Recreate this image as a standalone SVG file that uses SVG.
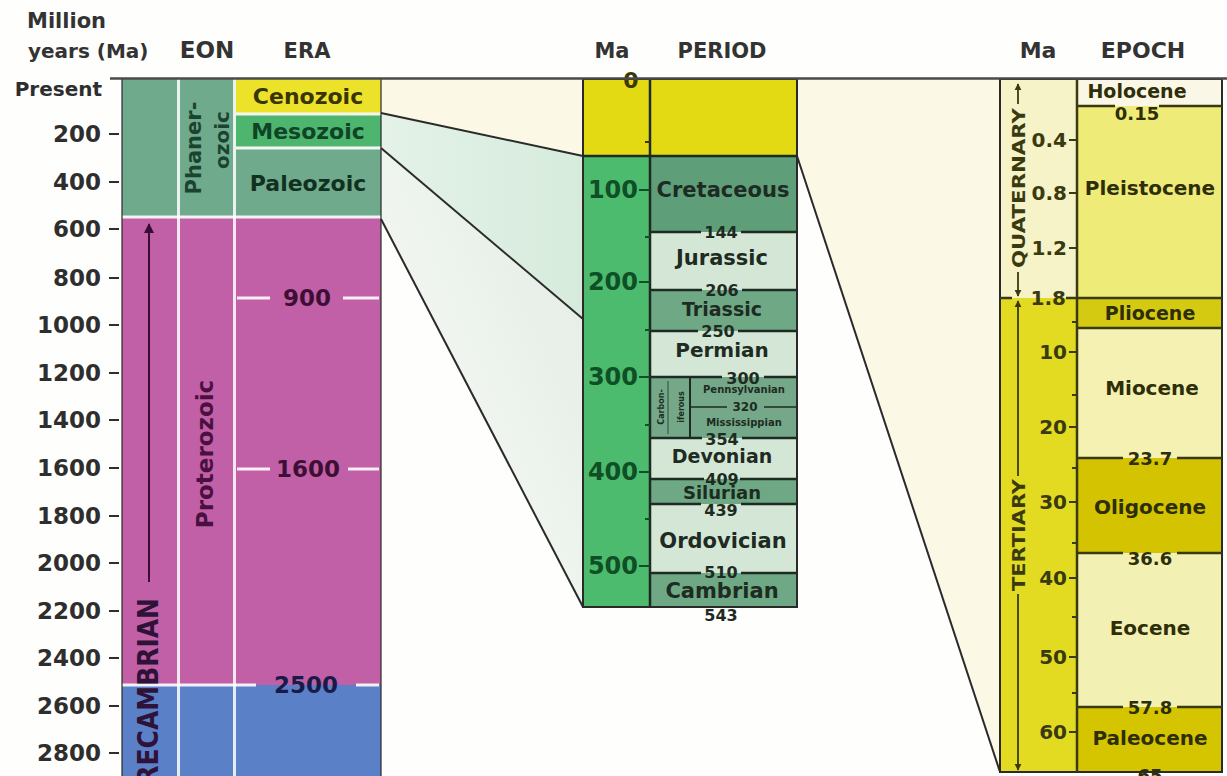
<svg xmlns="http://www.w3.org/2000/svg" width="1227" height="776" viewBox="0 0 1227 776">
<style>
text{font-family:"DejaVu Sans","Liberation Sans",sans-serif;font-weight:bold}
.hdr{fill:#333;font-size:21px}
.ax{fill:#2e2e2e;font-size:23px;text-anchor:end}
.tk{stroke:#2e2e2e;stroke-width:2}
.wl{stroke:#fff;stroke-width:3;opacity:.9}
.pn{fill:#1e2b22;font-size:21px;text-anchor:middle}
.pnum{fill:#1e2b22;font-size:16px;text-anchor:middle}
.pl{stroke:#1e2b22;stroke-width:2.5}
.gma{fill:#0e4f26;font-size:24px;text-anchor:end}
.gtk{stroke:#0e4f26;stroke-width:2}
.en{fill:#2e2e08;font-size:20px;text-anchor:middle}
.enum{fill:#2e2e08;font-size:18px;text-anchor:middle}
.el{stroke:#3a3a10;stroke-width:2.5}
.yma{fill:#3a3a10;font-size:20px;text-anchor:end}
.ytk{stroke:#3a3a10;stroke-width:2}
.conn{stroke:#2a2a2a;stroke-width:2;fill:none}
.frame{fill:none;stroke:#2a2a2a;stroke-width:2}
</style>
<defs>
<linearGradient id="gUp" x1="0" y1="0" x2="1" y2="0">
<stop offset="0" stop-color="#e4f2e8"/><stop offset="1" stop-color="#d6ebdc"/>
</linearGradient>
<linearGradient id="gLow" x1="0" y1="1" x2="1" y2="0">
<stop offset="0" stop-color="#fafbf9"/><stop offset="1" stop-color="#e2ece3"/>
</linearGradient>
<marker id="arrP" viewBox="0 0 10 10" refX="9" refY="5" markerWidth="5" markerHeight="5" orient="auto"><path d="M0,0 L10,5 L0,10 z" fill="#3a0c35"/></marker>
<marker id="arrY" viewBox="0 0 10 10" refX="9" refY="5" markerWidth="4" markerHeight="4" orient="auto"><path d="M0,0 L10,5 L0,10 z" fill="#3a3a10"/></marker>
</defs>
<rect width="1227" height="776" fill="#fefefd"/>

<g id="shading">
<polygon points="381,79 583,79 583,156 381,113" fill="#fbf9e5"/>
<polygon points="381,113 583,156 583,319 381,148" fill="url(#gUp)"/>
<polygon points="381,148 583,319 583,607 381,219" fill="url(#gLow)"/>
<polygon points="797,79 1000,79 1000,772 797,156" fill="#fbf9e6"/>
</g>

<g id="headers">
<text class="hdr" x="27" y="28" font-size="19">Million</text>
<text class="hdr" x="28" y="58" style="font-size:20px">years (Ma)</text>
<text class="hdr" x="207" y="58" text-anchor="middle" style="font-size:23px">EON</text>
<text class="hdr" x="307" y="58" text-anchor="middle">ERA</text>
<text class="hdr" x="612" y="58" text-anchor="middle">Ma</text>
<text class="hdr" x="722" y="58" text-anchor="middle">PERIOD</text>
<text class="hdr" x="1038" y="58" text-anchor="middle" style="font-size:22px">Ma</text>
<text class="hdr" x="1143" y="58" text-anchor="middle" style="font-size:22px">EPOCH</text>
</g>

<g id="left-axis">
<text class="ax" x="102" y="96" style="font-size:20px">Present</text>
<g class="tk">
<line x1="109" y1="134" x2="119" y2="134"/><line x1="109" y1="182" x2="119" y2="182"/><line x1="109" y1="229" x2="119" y2="229"/><line x1="109" y1="278" x2="119" y2="278"/><line x1="109" y1="325" x2="119" y2="325"/><line x1="109" y1="373" x2="119" y2="373"/><line x1="109" y1="420" x2="119" y2="420"/><line x1="109" y1="468" x2="119" y2="468"/><line x1="109" y1="516" x2="119" y2="516"/><line x1="109" y1="563" x2="119" y2="563"/><line x1="109" y1="611" x2="119" y2="611"/><line x1="109" y1="658" x2="119" y2="658"/><line x1="109" y1="706" x2="119" y2="706"/><line x1="109" y1="753" x2="119" y2="753"/>
</g>
<text class="ax" x="101" y="142">200</text>
<text class="ax" x="101" y="190">400</text>
<text class="ax" x="101" y="237">600</text>
<text class="ax" x="101" y="286">800</text>
<text class="ax" x="101" y="333">1000</text>
<text class="ax" x="101" y="381">1200</text>
<text class="ax" x="101" y="428">1400</text>
<text class="ax" x="101" y="476">1600</text>
<text class="ax" x="101" y="524">1800</text>
<text class="ax" x="101" y="571">2000</text>
<text class="ax" x="101" y="619">2200</text>
<text class="ax" x="101" y="666">2400</text>
<text class="ax" x="101" y="714">2600</text>
<text class="ax" x="101" y="761">2800</text>
</g>

<g id="left-column">
<rect x="122" y="79" width="259" height="138" fill="#70aa8c"/>
<rect x="122" y="217" width="259" height="468" fill="#c160a6"/>
<rect x="122" y="685" width="259" height="91" fill="#5a80c8"/>
<rect x="236" y="79" width="145" height="34" fill="#ece22a"/>
<rect x="236" y="115" width="145" height="31" fill="#4db56e"/>
<line class="wl" x1="236" y1="114" x2="381" y2="114"/>
<line class="wl" x1="236" y1="148" x2="381" y2="148"/>
<line class="wl" x1="122" y1="217" x2="381" y2="217"/>
<line x1="178.5" y1="79" x2="178.5" y2="776" stroke="#fff" stroke-width="3" opacity=".85"/>
<line x1="234.5" y1="79" x2="234.5" y2="776" stroke="#fff" stroke-width="3" opacity=".85"/>
<line class="wl" x1="237" y1="298" x2="270" y2="298"/><line class="wl" x1="343" y1="298" x2="379" y2="298"/>
<line class="wl" x1="237" y1="469" x2="270" y2="469"/><line class="wl" x1="348" y1="469" x2="379" y2="469"/>
<line class="wl" x1="122" y1="685" x2="256" y2="685"/><line class="wl" x1="356" y1="685" x2="379" y2="685"/>
<line x1="122" y1="78" x2="122" y2="776" stroke="#2a2a2a" stroke-width="2" opacity=".6"/>
<line x1="381" y1="78" x2="381" y2="776" stroke="#2a2a2a" stroke-width="2" opacity=".6"/>
<text x="308" y="104" fill="#3a3400" font-size="22" text-anchor="middle">Cenozoic</text>
<text x="308" y="139" fill="#0f4426" font-size="22" text-anchor="middle">Mesozoic</text>
<text x="308" y="191" fill="#12301f" font-size="22" text-anchor="middle">Paleozoic</text>
<text x="307" y="306" fill="#3d0f35" font-size="23" text-anchor="middle">900</text>
<text x="308" y="477" fill="#3d0f35" font-size="23" text-anchor="middle">1600</text>
<text x="306" y="693" fill="#1a1a48" font-size="23" text-anchor="middle">2500</text>
<text transform="translate(201,148) rotate(-90)" fill="#1a4430" font-size="21" text-anchor="middle">Phaner-</text>
<text transform="translate(229,140) rotate(-90)" fill="#1a4430" font-size="20" text-anchor="middle">ozoic</text>
<text transform="translate(213,454) rotate(-90)" fill="#4a1040" font-size="23" text-anchor="middle">Proterozoic</text>
<line x1="149" y1="582" x2="149" y2="224" stroke="#3a0c35" stroke-width="2" marker-end="url(#arrP)"/>
<text transform="translate(158,598) rotate(-90)" fill="#2e1238" font-size="28" text-anchor="end" textLength="205" lengthAdjust="spacingAndGlyphs">PRECAMBRIAN</text>
</g>

<g id="middle-column">
<rect x="583" y="79" width="214" height="77" fill="#e4da14"/>
<rect x="583" y="156" width="67" height="451" fill="#4dbb6e"/>
<rect x="650" y="156" width="147" height="76" fill="#5e9e79"/>
<rect x="650" y="232" width="147" height="58" fill="#d4e7d6"/>
<rect x="650" y="290" width="147" height="41" fill="#6ea884"/>
<rect x="650" y="331" width="147" height="46" fill="#d4e7d6"/>
<rect x="650" y="377" width="147" height="61" fill="#74a888"/>
<rect x="650" y="438" width="147" height="41" fill="#d4e7d6"/>
<rect x="650" y="479" width="147" height="25" fill="#6ea884"/>
<rect x="650" y="504" width="147" height="69" fill="#d4e7d6"/>
<rect x="650" y="573" width="147" height="34" fill="#6ea884"/>
<rect class="frame" x="583" y="79" width="214" height="528"/>
<line class="pl" x1="650" y1="79" x2="650" y2="607"/>
<line class="pl" x1="583" y1="156" x2="797" y2="156"/>
<g class="pl">
<line x1="650" y1="232" x2="701" y2="232"/><line x1="741" y1="232" x2="797" y2="232"/>
<line x1="650" y1="290" x2="702" y2="290"/><line x1="742" y1="290" x2="797" y2="290"/>
<line x1="650" y1="331" x2="698" y2="331"/><line x1="738" y1="331" x2="797" y2="331"/>
<line x1="650" y1="377" x2="722" y2="377"/><line x1="764" y1="377" x2="797" y2="377"/>
<line x1="650" y1="438" x2="702" y2="438"/><line x1="742" y1="438" x2="797" y2="438"/>
<line x1="650" y1="479" x2="704" y2="479"/><line x1="740" y1="479" x2="797" y2="479"/>
<line x1="650" y1="504" x2="701" y2="504"/><line x1="741" y1="504" x2="797" y2="504"/>
<line x1="650" y1="573" x2="701" y2="573"/><line x1="741" y1="573" x2="797" y2="573"/>
</g>
<line x1="690" y1="377" x2="690" y2="438" stroke="#1e2b22" stroke-width="2"/>
<line x1="668" y1="381" x2="668" y2="434" stroke="#2e4a38" stroke-width="1"/>
<line x1="690" y1="407" x2="727" y2="407" stroke="#1e2b22" stroke-width="1.5"/>
<line x1="764" y1="407" x2="797" y2="407" stroke="#1e2b22" stroke-width="1.5"/>
<text transform="translate(664,407) rotate(-90)" fill="#1e2b22" font-size="8" text-anchor="middle">Carbon-</text>
<text transform="translate(684,407) rotate(-90)" fill="#1e2b22" font-size="8" text-anchor="middle">iferous</text>
<text x="744" y="393" fill="#1e2b22" font-size="10" text-anchor="middle">Pennsylvanian</text>
<text x="745" y="411" fill="#1e2b22" font-size="12" text-anchor="middle">320</text>
<text x="744" y="426" fill="#1e2b22" font-size="10" text-anchor="middle">Mississippian</text>
<text class="pn" x="723" y="197">Cretaceous</text>
<text class="pn" x="722" y="265">Jurassic</text>
<text class="pn" x="722" y="316" style="font-size:19px">Triassic</text>
<text class="pn" x="722" y="357" style="font-size:20px">Permian</text>
<text class="pn" x="722" y="463" style="font-size:19px">Devonian</text>
<text class="pn" x="722" y="499" style="font-size:18px">Silurian</text>
<text class="pn" x="723" y="548">Ordovician</text>
<text class="pn" x="722" y="598">Cambrian</text>
<text class="pnum" x="721" y="238">144</text>
<text class="pnum" x="722" y="296">206</text>
<text class="pnum" x="718" y="337">250</text>
<text class="pnum" x="743" y="384">300</text>
<text class="pnum" x="722" y="445">354</text>
<text class="pnum" x="722" y="485">409</text>
<text class="pnum" x="721" y="516">439</text>
<text class="pnum" x="721" y="578">510</text>
<text class="pnum" x="721" y="621">543</text>
<text x="631" y="88" fill="#3d3800" font-size="22" text-anchor="middle">0</text>
<g class="gtk">
<line x1="639" y1="190" x2="650" y2="190"/><line x1="639" y1="282" x2="650" y2="282"/><line x1="639" y1="377" x2="650" y2="377"/><line x1="639" y1="472" x2="650" y2="472"/><line x1="639" y1="566" x2="650" y2="566"/>
<line x1="645" y1="142" x2="650" y2="142" stroke="#3d3800"/><line x1="645" y1="237" x2="650" y2="237"/><line x1="645" y1="330" x2="650" y2="330"/><line x1="645" y1="425" x2="650" y2="425"/><line x1="645" y1="519" x2="650" y2="519"/>
</g>
<text class="gma" x="638" y="198">100</text>
<text class="gma" x="638" y="290">200</text>
<text class="gma" x="638" y="385">300</text>
<text class="gma" x="638" y="480">400</text>
<text class="gma" x="638" y="574">500</text>
</g>

<g id="right-column">
<rect x="1000" y="79" width="77" height="219" fill="#f6f3c8"/>
<rect x="1000" y="298" width="77" height="474" fill="#e2db22"/>
<rect x="1077" y="79" width="145" height="27" fill="#faf7e6"/>
<rect x="1077" y="106" width="145" height="192" fill="#efeb78"/>
<rect x="1077" y="298" width="145" height="30" fill="#d5ca12"/>
<rect x="1077" y="328" width="145" height="130" fill="#f4f1b2"/>
<rect x="1077" y="458" width="145" height="95" fill="#d3c300"/>
<rect x="1077" y="553" width="145" height="154" fill="#f3f0b4"/>
<rect x="1077" y="707" width="145" height="65" fill="#d5c500"/>
<rect class="frame" x="1000" y="79" width="222" height="693"/>
<line class="el" x1="1077" y1="79" x2="1077" y2="772"/>
<g class="el">
<line x1="1077" y1="106" x2="1115" y2="106"/><line x1="1159" y1="106" x2="1222" y2="106"/>
<line x1="1000" y1="298" x2="1012" y2="298"/><line x1="1066" y1="298" x2="1222" y2="298"/>
<line x1="1077" y1="328" x2="1222" y2="328"/>
<line x1="1077" y1="458" x2="1123" y2="458"/><line x1="1177" y1="458" x2="1222" y2="458"/>
<line x1="1077" y1="553" x2="1123" y2="553"/><line x1="1177" y1="553" x2="1222" y2="553"/>
<line x1="1077" y1="707" x2="1123" y2="707"/><line x1="1177" y1="707" x2="1222" y2="707"/>
</g>
<text class="en" x="1137" y="98" style="font-size:19px">Holocene</text>
<text class="en" x="1150" y="195">Pleistocene</text>
<text class="en" x="1150" y="320" style="font-size:19px">Pliocene</text>
<text class="en" x="1152" y="395">Miocene</text>
<text class="en" x="1150" y="514">Oligocene</text>
<text class="en" x="1150" y="635">Eocene</text>
<text class="en" x="1150" y="745">Paleocene</text>
<text class="enum" x="1137" y="120">0.15</text>
<text class="enum" x="1150" y="465">23.7</text>
<text class="enum" x="1150" y="565">36.6</text>
<text class="enum" x="1150" y="714">57.8</text>
<text class="enum" x="1150" y="782">65</text>
<g class="ytk">
<line x1="1069" y1="140" x2="1077" y2="140"/><line x1="1069" y1="193" x2="1077" y2="193"/><line x1="1069" y1="248" x2="1077" y2="248"/>
<line x1="1069" y1="352" x2="1077" y2="352"/><line x1="1069" y1="427" x2="1077" y2="427"/><line x1="1069" y1="502" x2="1077" y2="502"/><line x1="1069" y1="578" x2="1077" y2="578"/><line x1="1069" y1="657" x2="1077" y2="657"/><line x1="1069" y1="732" x2="1077" y2="732"/>
<line x1="1072" y1="322" x2="1077" y2="322"/><line x1="1072" y1="395" x2="1077" y2="395"/><line x1="1072" y1="468" x2="1077" y2="468"/><line x1="1072" y1="543" x2="1077" y2="543"/><line x1="1072" y1="617" x2="1077" y2="617"/><line x1="1072" y1="693" x2="1077" y2="693"/>
</g>
<text class="yma" x="1067" y="147">0.4</text>
<text class="yma" x="1067" y="200">0.8</text>
<text class="yma" x="1067" y="255">1.2</text>
<text class="yma" x="1066" y="305">1.8</text>
<text class="yma" x="1067" y="359">10</text>
<text class="yma" x="1067" y="434">20</text>
<text class="yma" x="1067" y="509">30</text>
<text class="yma" x="1067" y="585">40</text>
<text class="yma" x="1067" y="664">50</text>
<text class="yma" x="1067" y="739">60</text>
<g stroke="#3a3a10" stroke-width="1.8">
<line x1="1018" y1="104" x2="1018" y2="84" marker-end="url(#arrY)"/>
<line x1="1018" y1="272" x2="1018" y2="296" marker-end="url(#arrY)"/>
<line x1="1018" y1="476" x2="1018" y2="301" marker-end="url(#arrY)"/>
<line x1="1018" y1="594" x2="1018" y2="770" marker-end="url(#arrY)"/>
</g>
<text transform="translate(1025,188) rotate(-90)" fill="#3a3a10" font-size="17" text-anchor="middle" textLength="160" lengthAdjust="spacingAndGlyphs">QUATERNARY</text>
<text transform="translate(1025,535) rotate(-90)" fill="#3a3a10" font-size="17" text-anchor="middle" textLength="112" lengthAdjust="spacingAndGlyphs">TERTIARY</text>
</g>

<g id="connectors">
<line x1="110" y1="78.5" x2="1227" y2="78.5" stroke="#4a4a4a" stroke-width="2.5"/>
<line class="conn" x1="381" y1="113" x2="583" y2="156"/>
<line class="conn" x1="381" y1="148" x2="583" y2="319"/>
<line class="conn" x1="381" y1="219" x2="583" y2="607"/>
<line class="conn" x1="797" y1="156" x2="1000" y2="772"/>
</g>
</svg>
